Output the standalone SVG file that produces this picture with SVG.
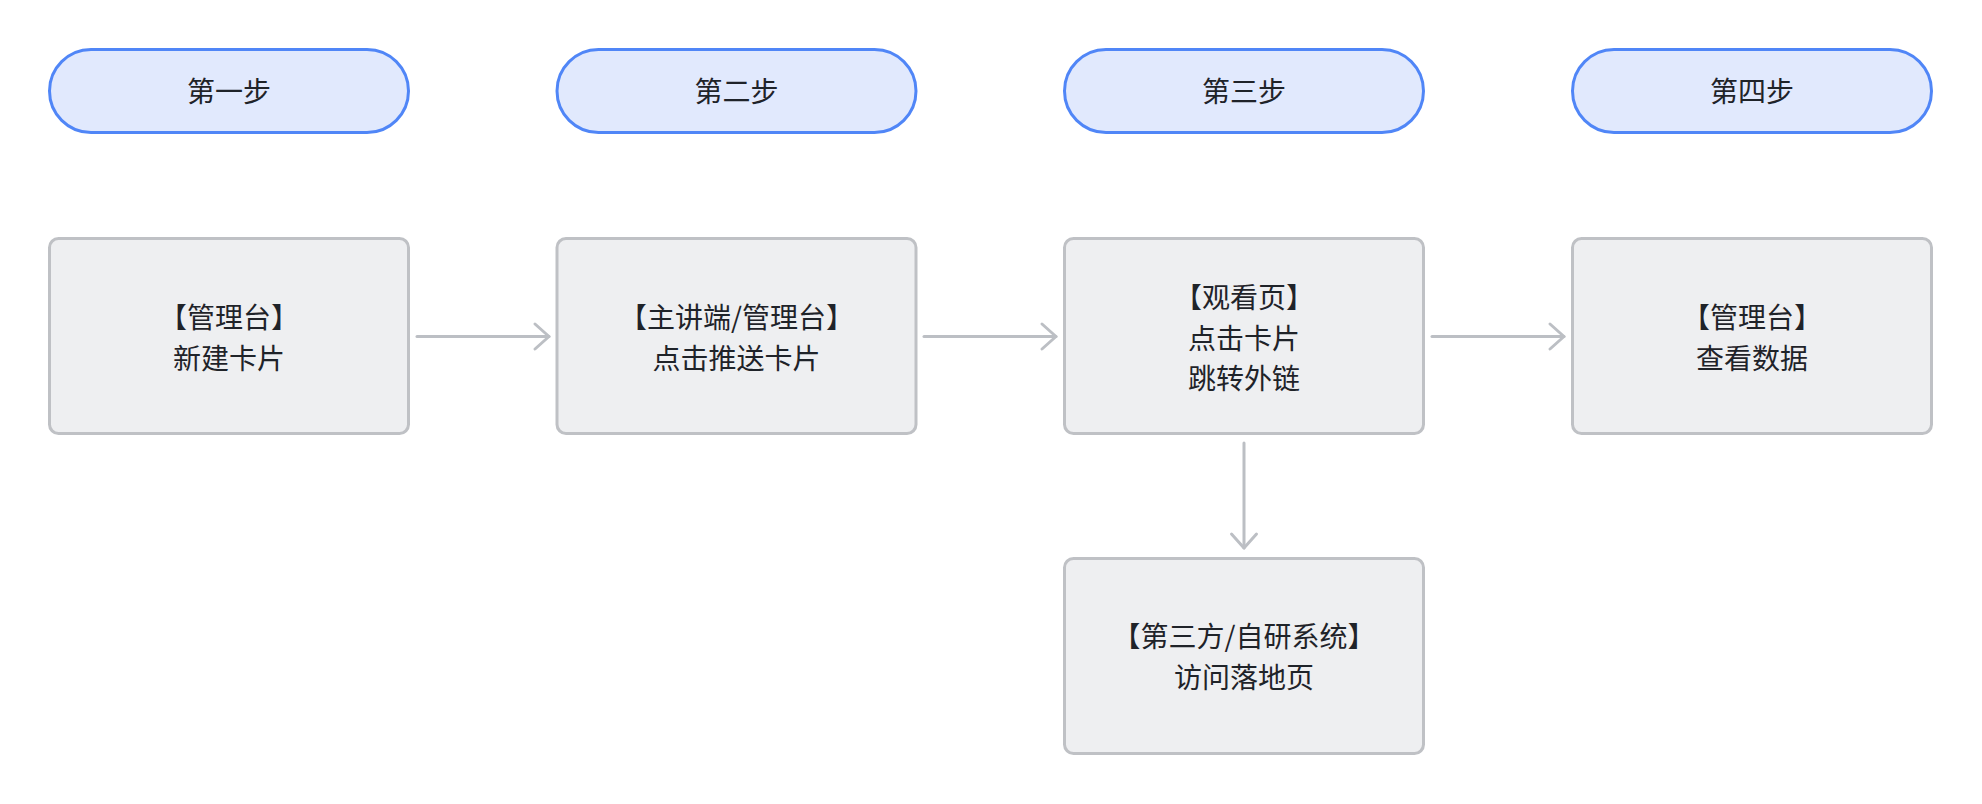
<svg xmlns="http://www.w3.org/2000/svg" width="1982" height="804" viewBox="0 0 1982 804">
<style>
.pill{fill:#E1E9FD;stroke:#5086F7;stroke-width:3}
.box{fill:#EEEFF1;stroke:#BFC1C5;stroke-width:3}
.t{font-family:"Noto Sans CJK SC","Noto Sans",sans-serif;font-size:28px;fill:#1F2329;text-anchor:middle}
.edge{fill:none;stroke:#BCBFC4;stroke-width:3;stroke-linecap:round}
</style>
<defs>
<marker id="arr" markerUnits="userSpaceOnUse" markerWidth="40" markerHeight="40" refX="0" refY="0" viewBox="-20 -20 40 40" orient="auto" overflow="visible">
<path d="M-14,-12.5 L0,0 L-14,12.5" fill="none" stroke="#BCBFC4" stroke-width="3" stroke-linecap="round" stroke-linejoin="round"/>
</marker>
</defs>
<rect width="1982" height="804" fill="#FFFFFF"/>
<g id="step1"><rect class="pill" x="49.5" y="49.5" width="359" height="83" rx="41.5"/><text class="t" x="229" y="101.5">第一步</text></g>
<g id="step2"><rect class="pill" x="557" y="49.5" width="359" height="83" rx="41.5"/><text class="t" x="736.5" y="101.5">第二步</text></g>
<g id="step3"><rect class="pill" x="1064.5" y="49.5" width="359" height="83" rx="41.5"/><text class="t" x="1244" y="101.5">第三步</text></g>
<g id="step4"><rect class="pill" x="1572.5" y="49.5" width="359" height="83" rx="41.5"/><text class="t" x="1752" y="101.5">第四步</text></g>
<g id="n1"><rect class="box" x="49.5" y="238.5" width="359" height="195" rx="9"/><text class="t" x="229" y="328">【管理台】</text><text class="t" x="229" y="368.5">新建卡片</text></g>
<g id="n2"><rect class="box" x="557" y="238.5" width="359" height="195" rx="9"/><text class="t" x="736.5" y="328">【主讲端/管理台】</text><text class="t" x="736.5" y="368.5">点击推送卡片</text></g>
<g id="n3"><rect class="box" x="1064.5" y="238.5" width="359" height="195" rx="9"/><text class="t" x="1244" y="308">【观看页】</text><text class="t" x="1244" y="348.5">点击卡片</text><text class="t" x="1244" y="389">跳转外链</text></g>
<g id="n4"><rect class="box" x="1572.5" y="238.5" width="359" height="195" rx="9"/><text class="t" x="1752" y="328">【管理台】</text><text class="t" x="1752" y="368.5">查看数据</text></g>
<g id="n5"><rect class="box" x="1064.5" y="558.5" width="359" height="195" rx="9"/><text class="t" x="1244" y="647">【第三方/自研系统】</text><text class="t" x="1244" y="687.5">访问落地页</text></g>
<g id="connectors">
<path class="edge" d="M417,336.5 L549,336.5" marker-end="url(#arr)"/>
<path class="edge" d="M924,336.5 L1056,336.5" marker-end="url(#arr)"/>
<path class="edge" d="M1432,336.5 L1564,336.5" marker-end="url(#arr)"/>
<path class="edge" d="M1244,443 L1244,548" marker-end="url(#arr)"/>
</g>
</svg>
